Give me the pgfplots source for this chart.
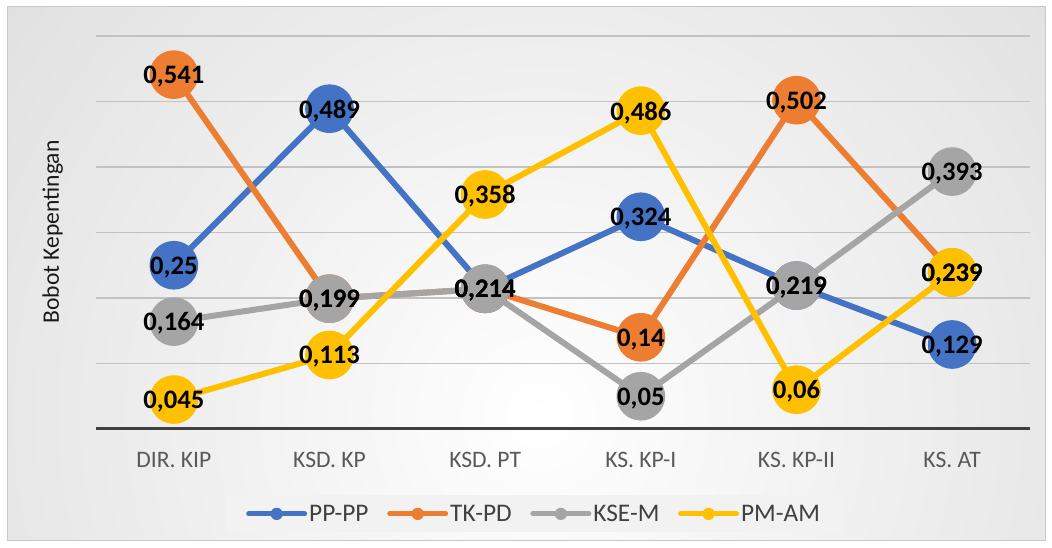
\documentclass[border=0pt]{standalone}
\usepackage{pgfplots}
\pgfplotsset{compat=1.18}
\usepackage{fontspec}
\setmainfont{Carlito}
\definecolor{cBlue}{HTML}{4472C4}
\definecolor{cOrange}{HTML}{ED7D31}
\definecolor{cGray}{HTML}{A5A5A5}
\definecolor{cYellow}{HTML}{FFC000}
\definecolor{bgOuter}{HTML}{C0C0C0}
\definecolor{tickText}{HTML}{595959}
\definecolor{legFill}{HTML}{F2F2F2}
\pgfdeclareradialshading{bgshade}{\pgfpointorigin}{color(0bp)=(white); color(50bp)=(bgOuter)}
\begin{document}
\begin{tikzpicture}
\useasboundingbox (0,0) rectangle (789pt,411pt);
\fill[white] (0,0) rectangle (789pt,411pt);
\begin{scope}
\clip (5.25pt,5.25pt) rectangle (783.75pt,405.75pt);
\shade[shading=bgshade] (405pt,100pt) circle (530pt);
\end{scope}
\draw[black!22, line width=0.75pt] (5.25pt,5.25pt) rectangle (783.75pt,405.75pt);
\node[rotate=90, font=\fontsize{17.7}{20}\selectfont, text=black!90] at (39.5pt,237pt) {Bobot Kepentingan};
\begin{axis}[
  at={(72pt,89.25pt)}, anchor=south west,
  scale only axis, width=700.5pt, height=294.75pt,
  xmin=-0.5, xmax=5.5, ymin=0, ymax=0.6,
  clip=false,
  axis line style={draw=none},
  xtick={0,1,2,3,4,5},
  xticklabels={DIR. KIP, KSD. KP, KSD. PT, KS. KP-I, KS. KP-II, KS. AT},
  ytick={0.1,0.2,0.3,0.4,0.5,0.6},
  yticklabels={},
  ymajorgrids,
  grid style={draw=black!24, line width=1.1pt},
  extra y ticks={0},
  extra y tick labels={},
  extra y tick style={grid=major, grid style={draw=black!75, line width=2.25pt}},
  major tick length=0pt,
  xticklabel style={anchor=base, yshift=-29pt, font=\fontsize{17.7}{20}\selectfont, text=tickText},
  legend style={at={(0.469,-0.216)}, anchor=center, fill=legFill, draw=none,
    legend columns=4, inner xsep=15pt, inner ysep=5pt,
    font=\fontsize{19}{21}\selectfont, text=black!75,
    nodes={inner xsep=1.5pt},
    /tikz/every even column/.append style={column sep=12.5pt}},
  legend image code/.code={
    \draw[line width=3.75pt, line cap=round] (0pt,0pt) -- (42pt,0pt);
    \fill[draw=none] (21pt,0pt) circle (4.6pt);},
  every axis plot/.append style={line width=4.5pt, line join=round, mark=*, mark size=16pt},
  nodelbl/.style={draw=none, mark=none, forget plot,
    nodes near coords={\pgfmathprintnumber[fixed,precision=3,use comma,assume math mode=true]{\pgfplotspointmeta}},
    nodes near coords style={anchor=center, yshift=-1.5pt, font=\fontsize{20}{23}\selectfont\bfseries, text=black}},
]
\addplot[color=cBlue, mark options={draw=none, fill=cBlue}] coordinates {(0,0.25) (1,0.489) (2,0.214) (3,0.324) (4,0.219) (5,0.129)};
\addlegendentry{PP-PP}
\addplot[color=cOrange, mark options={draw=none, fill=cOrange}] coordinates {(0,0.541) (1,0.199) (2,0.214) (3,0.14) (4,0.502) (5,0.239)};
\addlegendentry{TK-PD}
\addplot[color=cGray, mark options={draw=none, fill=cGray}] coordinates {(0,0.164) (1,0.199) (2,0.214) (3,0.05) (4,0.219) (5,0.393)};
\addlegendentry{KSE-M}
\addplot[color=cYellow, mark options={draw=none, fill=cYellow}] coordinates {(0,0.045) (1,0.113) (2,0.358) (3,0.486) (4,0.06) (5,0.239)};
\addlegendentry{PM-AM}
\addplot[nodelbl] coordinates {(0,0.25) (1,0.489) (2,0.214) (3,0.324) (4,0.219) (5,0.129)};
\addplot[nodelbl] coordinates {(0,0.541) (1,0.199) (2,0.214) (3,0.14) (4,0.502) (5,0.239)};
\addplot[nodelbl] coordinates {(0,0.164) (1,0.199) (2,0.214) (3,0.05) (4,0.219) (5,0.393)};
\addplot[nodelbl] coordinates {(0,0.045) (1,0.113) (2,0.358) (3,0.486) (4,0.06) (5,0.239)};
\end{axis}
\end{tikzpicture}
\end{document}
